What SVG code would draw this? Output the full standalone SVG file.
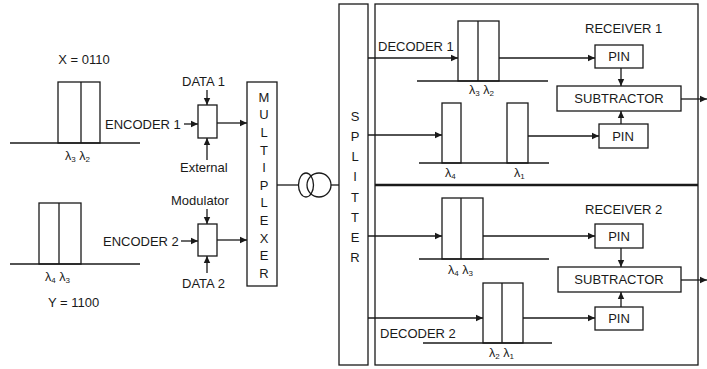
<svg xmlns="http://www.w3.org/2000/svg" width="707" height="369" viewBox="0 0 707 369">
<style>
text{font-family:"Liberation Sans",Arial,sans-serif;font-size:13px;fill:#1a1a1a}
.lam{font-size:12.5px}
.sub{font-size:8px}
.c{text-anchor:middle}
.box{fill:#fff;stroke:#1a1a1a;stroke-width:1.3}
.ln{fill:none;stroke:#1a1a1a;stroke-width:1.3}
.ar{fill:none;stroke:#1a1a1a;stroke-width:1.3;marker-end:url(#ah)}
</style>
<defs>
<marker id="ah" markerUnits="userSpaceOnUse" markerWidth="8" markerHeight="8" refX="7" refY="4" orient="auto">
<path d="M0,0.8 L7,4 L0,7.2 Z" fill="#1a1a1a"/>
</marker>
</defs>
<rect width="707" height="369" fill="#fff"/>

<g id="spectrumX">
<text x="84" y="64" class="c">X = 0110</text>
<rect class="box" x="58" y="82" width="42" height="61"/>
<line class="ln" x1="81" y1="82" x2="81" y2="143"/>
<line class="ln" x1="10" y1="143" x2="140" y2="143"/>
<text class="lam" x="65" y="160">λ<tspan class="sub" dy="2">3</tspan><tspan dy="-2"> λ</tspan><tspan class="sub" dy="2">2</tspan></text>
</g>
<g id="spectrumY">
<rect class="box" x="39" y="203" width="42" height="61"/>
<line class="ln" x1="59" y1="203" x2="59" y2="264"/>
<line class="ln" x1="10" y1="264" x2="140" y2="264"/>
<text class="lam" x="45" y="281">λ<tspan class="sub" dy="2">4</tspan><tspan dy="-2"> λ</tspan><tspan class="sub" dy="2">3</tspan></text>
<text x="48" y="307">Y  = 1100</text>
</g>

<g id="encoder1">
<text x="105" y="129">ENCODER 1</text>
<text x="182" y="86">DATA 1</text>
<text x="180" y="172">External</text>
<rect class="box" x="198" y="105" width="19" height="33"/>
</g>
<g id="encoder2">
<text x="171" y="205">Modulator</text>
<text x="103" y="246">ENCODER 2</text>
<text x="182" y="288">DATA 2</text>
<rect class="box" x="198" y="224" width="19" height="32"/>
</g>

<g id="multiplexer">
<rect class="box" x="247" y="82" width="30" height="204"/>
<text class="c" x="264" y="102">M</text>
<text class="c" x="264" y="119">U</text>
<text class="c" x="264" y="137">L</text>
<text class="c" x="264" y="155">T</text>
<text class="c" x="264" y="172">I</text>
<text class="c" x="264" y="190">P</text>
<text class="c" x="264" y="207">L</text>
<text class="c" x="264" y="225">E</text>
<text class="c" x="264" y="243">X</text>
<text class="c" x="264" y="260">E</text>
<text class="c" x="264" y="278">R</text>
</g>

<g id="fiber">
<ellipse class="ln" cx="306" cy="185" rx="7.5" ry="12"/>
<ellipse class="ln" cx="319" cy="185" rx="12" ry="12"/>
</g>

<g id="splitter">
<rect class="box" x="339" y="4" width="29" height="361"/>
<text class="c" x="355" y="121">S</text>
<text class="c" x="355" y="141">P</text>
<text class="c" x="355" y="161">L</text>
<text class="c" x="355" y="181">I</text>
<text class="c" x="355" y="202">T</text>
<text class="c" x="355" y="222">T</text>
<text class="c" x="355" y="242">E</text>
<text class="c" x="355" y="262">R</text>
</g>

<g id="receiverFrame">
<rect class="box" x="375" y="4" width="323" height="361"/>
<line x1="375" y1="185" x2="698" y2="185" stroke="#1a1a1a" stroke-width="2.6"/>
</g>

<g id="decoder1">
<text x="378" y="51">DECODER 1</text>
<rect class="box" x="458" y="21" width="41" height="60"/>
<line class="ln" x1="478" y1="21" x2="478" y2="81"/>
<line class="ln" x1="417" y1="81" x2="548" y2="81"/>
<text class="lam" x="469" y="94">λ<tspan class="sub" dy="2">3</tspan><tspan dy="-2"> λ</tspan><tspan class="sub" dy="2">2</tspan></text>
</g>
<g id="decoder1b">
<rect class="box" x="442" y="103" width="19" height="60"/>
<rect class="box" x="507" y="103" width="21" height="60"/>
<line class="ln" x1="419" y1="163" x2="549" y2="163"/>
<text class="lam" x="445" y="177">λ<tspan class="sub" dy="2">4</tspan></text>
<text class="lam" x="514" y="177">λ<tspan class="sub" dy="2">1</tspan></text>
</g>
<g id="receiver1">
<text x="585" y="33">RECEIVER 1</text>
<rect class="box" x="595" y="45" width="48" height="23"/>
<text class="c" x="619" y="61">PIN</text>
<rect class="box" x="557" y="86" width="124" height="25"/>
<text class="c" x="619" y="103">SUBTRACTOR</text>
<rect class="box" x="599" y="124" width="49" height="24"/>
<text class="c" x="623" y="141">PIN</text>
</g>

<g id="decoder2a">
<rect class="box" x="442" y="198" width="41" height="61"/>
<line class="ln" x1="461" y1="198" x2="461" y2="259"/>
<line class="ln" x1="419" y1="259" x2="549" y2="259"/>
<text class="lam" x="448" y="274">λ<tspan class="sub" dy="2">4</tspan><tspan dy="-2"> λ</tspan><tspan class="sub" dy="2">3</tspan></text>
</g>
<g id="decoder2">
<text x="380" y="338">DECODER 2</text>
<rect class="box" x="483" y="283" width="40" height="60"/>
<line class="ln" x1="502" y1="283" x2="502" y2="343"/>
<line class="ln" x1="423" y1="343" x2="552" y2="343"/>
<text class="lam" x="489" y="357">λ<tspan class="sub" dy="2">2</tspan><tspan dy="-2"> λ</tspan><tspan class="sub" dy="2">1</tspan></text>
</g>
<g id="receiver2">
<text x="585" y="214">RECEIVER 2</text>
<rect class="box" x="595" y="224" width="48" height="24"/>
<text class="c" x="619" y="241">PIN</text>
<rect class="box" x="558" y="267" width="123" height="25"/>
<text class="c" x="619" y="284">SUBTRACTOR</text>
<rect class="box" x="595" y="307" width="48" height="23"/>
<text class="c" x="619" y="323">PIN</text>
</g>

<g id="connectors">
<line class="ar" x1="184" y1="124" x2="198" y2="124"/>
<line class="ar" x1="207" y1="90" x2="207" y2="105"/>
<line class="ar" x1="207" y1="160" x2="207" y2="138"/>
<line class="ar" x1="217" y1="123" x2="247" y2="123"/>
<line class="ar" x1="181" y1="241" x2="198" y2="241"/>
<line class="ar" x1="207" y1="209" x2="207" y2="224"/>
<line class="ar" x1="207" y1="273" x2="207" y2="256"/>
<line class="ar" x1="217" y1="240" x2="247" y2="240"/>
<line class="ln" x1="277" y1="185" x2="298.5" y2="185"/>
<line class="ln" x1="331" y1="185" x2="339" y2="185"/>
<line class="ar" x1="368" y1="58" x2="458" y2="58"/>
<line class="ar" x1="499" y1="58" x2="595" y2="58"/>
<line class="ar" x1="621" y1="68" x2="621" y2="86"/>
<line class="ar" x1="368" y1="135" x2="442" y2="135"/>
<line class="ar" x1="528" y1="136" x2="599" y2="136"/>
<line class="ar" x1="621" y1="124" x2="621" y2="111"/>
<line class="ar" x1="681" y1="99" x2="707" y2="99"/>
<line class="ar" x1="368" y1="236" x2="442" y2="236"/>
<line class="ar" x1="483" y1="236" x2="595" y2="236"/>
<line class="ar" x1="621" y1="248" x2="621" y2="267"/>
<line class="ar" x1="368" y1="318" x2="483" y2="318"/>
<line class="ar" x1="523" y1="318" x2="595" y2="318"/>
<line class="ar" x1="621" y1="307" x2="621" y2="292"/>
<line class="ar" x1="681" y1="280" x2="707" y2="280"/>
</g>
</svg>
